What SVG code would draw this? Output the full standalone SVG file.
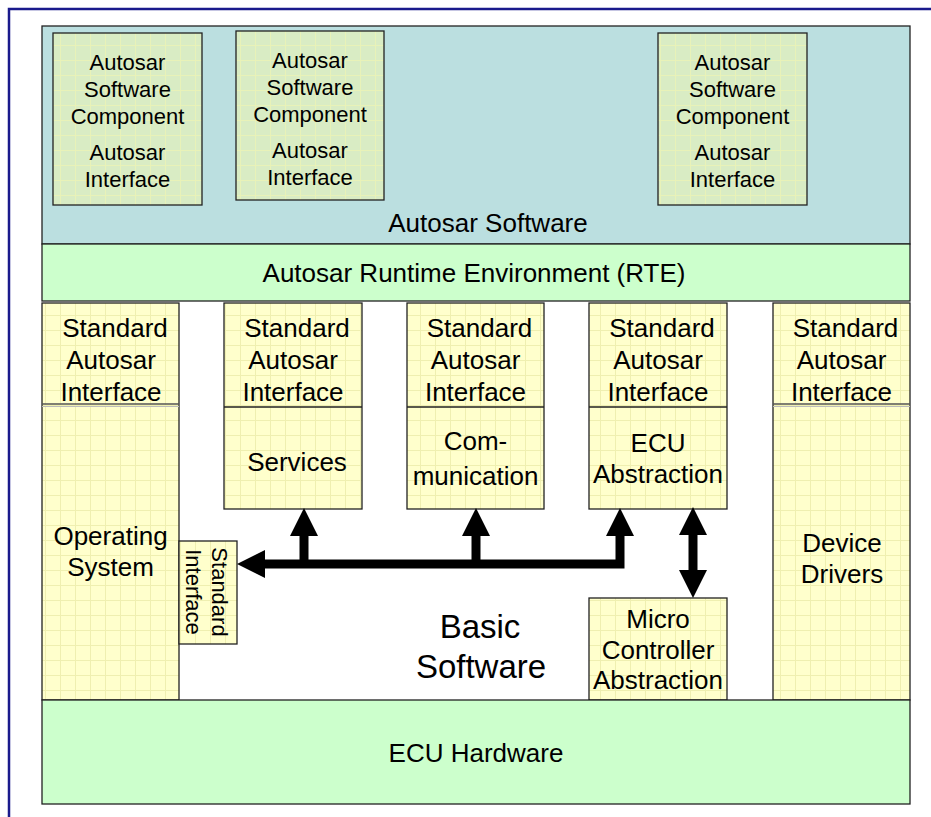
<svg xmlns="http://www.w3.org/2000/svg" width="931" height="817" viewBox="0 0 931 817">
<style>
text{font-family:"Liberation Sans",Arial,sans-serif;fill:#000;text-anchor:middle}
.t26{font-size:26px}
.t22{font-size:22px}
.box{stroke:#222;stroke-width:1.3}
.y{fill:url(#gridY)}
.g{fill:url(#gridG)}
.panel{stroke:#222;stroke-width:1.3}
.conn{fill:none;stroke:#000;stroke-width:9;stroke-linejoin:miter}
</style>
<defs>
<pattern id="gridY" patternUnits="userSpaceOnUse" width="15" height="15">
<rect width="15" height="15" fill="#ffffcc"/>
<path d="M0,0.5H15M0.5,0V15" stroke="#efefb0" stroke-width="1"/>
</pattern>
<pattern id="gridG" patternUnits="userSpaceOnUse" width="15" height="15">
<rect width="15" height="15" fill="#d9ecc4"/>
<path d="M0,0.5H15M0.5,0V15" stroke="#e8f2b8" stroke-width="1"/>
</pattern>
<marker id="ah" markerUnits="userSpaceOnUse" markerWidth="28" markerHeight="28" refX="0" refY="14" orient="auto-start-reverse" viewBox="0 0 28 28">
<path d="M0,0L28,14L0,28z" fill="#000"/>
</marker>
</defs>
<rect width="931" height="817" fill="#fff"/>
<path d="M9,817V9H931" fill="none" stroke="#1a1a8c" stroke-width="2.5"/>

<g id="autosar-software">
<rect class="panel" x="42" y="26" width="868" height="218" fill="#bbdfe0"/>
<text class="t26" x="488" y="232">Autosar Software</text>
</g>
<g id="swc1">
<rect class="box g" x="53" y="33" width="149" height="172"/>
<text class="t22" x="127.5" y="70">Autosar</text>
<text class="t22" x="127.5" y="97">Software</text>
<text class="t22" x="127.5" y="124">Component</text>
<text class="t22" x="127.5" y="160">Autosar</text>
<text class="t22" x="127.5" y="187">Interface</text>
</g>
<g id="swc2">
<rect class="box g" x="236" y="31" width="148" height="169"/>
<text class="t22" x="310" y="68">Autosar</text>
<text class="t22" x="310" y="95">Software</text>
<text class="t22" x="310" y="122">Component</text>
<text class="t22" x="310" y="158">Autosar</text>
<text class="t22" x="310" y="185">Interface</text>
</g>
<g id="swc3">
<rect class="box g" x="658" y="33" width="149" height="172"/>
<text class="t22" x="732.5" y="70">Autosar</text>
<text class="t22" x="732.5" y="97">Software</text>
<text class="t22" x="732.5" y="124">Component</text>
<text class="t22" x="732.5" y="160">Autosar</text>
<text class="t22" x="732.5" y="187">Interface</text>
</g>
<g id="rte">
<rect class="panel" x="42" y="244" width="868" height="57" fill="#ccffcc"/>
<text class="t26" x="474" y="282">Autosar Runtime Environment (RTE)</text>
</g>
<g id="basic-software">
<text x="480" y="638" style="font-size:33px">Basic</text>
<text x="481" y="678" style="font-size:33px">Software</text>
</g>
<g id="operating-system">
<rect class="box y" x="42" y="303" width="137" height="397"/>
<line x1="42" y1="404" x2="179" y2="404" stroke="#555" stroke-width="1.3"/>
<line x1="42" y1="406.5" x2="179" y2="406.5" stroke="#bbb" stroke-width="1"/>
<text class="t26" x="115" y="337">Standard</text>
<text class="t26" x="111" y="369">Autosar</text>
<text class="t26" x="111" y="401">Interface</text>
<text class="t26" x="110.5" y="545">Operating</text>
<text class="t26" x="110.5" y="576">System</text>
</g>
<g id="services">
<rect class="box y" x="224" y="303" width="138" height="206"/>
<line x1="224" y1="407" x2="362" y2="407" stroke="#222" stroke-width="1.3"/>
<text class="t26" x="297" y="337">Standard</text>
<text class="t26" x="293" y="369">Autosar</text>
<text class="t26" x="293" y="401">Interface</text>
<text class="t26" x="297" y="471">Services</text>
</g>
<g id="communication">
<rect class="box y" x="407" y="303" width="137" height="206"/>
<line x1="407" y1="407" x2="544" y2="407" stroke="#222" stroke-width="1.3"/>
<text class="t26" x="479.5" y="337">Standard</text>
<text class="t26" x="475.5" y="369">Autosar</text>
<text class="t26" x="475.5" y="401">Interface</text>
<text class="t26" x="475.5" y="450">Com-</text>
<text class="t26" x="475.5" y="485">munication</text>
</g>
<g id="ecu-abstraction">
<rect class="box y" x="589" y="303" width="138" height="206"/>
<line x1="589" y1="407" x2="727" y2="407" stroke="#222" stroke-width="1.3"/>
<text class="t26" x="662" y="337">Standard</text>
<text class="t26" x="658" y="369">Autosar</text>
<text class="t26" x="658" y="401">Interface</text>
<text class="t26" x="658" y="452">ECU</text>
<text class="t26" x="658" y="483">Abstraction</text>
</g>
<g id="device-drivers">
<rect class="box y" x="773" y="303" width="137" height="397"/>
<line x1="773" y1="404" x2="910" y2="404" stroke="#555" stroke-width="1.3"/>
<line x1="773" y1="406.5" x2="910" y2="406.5" stroke="#bbb" stroke-width="1"/>
<text class="t26" x="845.5" y="337">Standard</text>
<text class="t26" x="841.5" y="369">Autosar</text>
<text class="t26" x="841.5" y="401">Interface</text>
<text class="t26" x="842" y="552">Device</text>
<text class="t26" x="842" y="583">Drivers</text>
</g>
<g id="micro-controller-abstraction">
<rect class="box y" x="589" y="598" width="138" height="102"/>
<text class="t26" x="658" y="628">Micro</text>
<text class="t26" x="658" y="659">Controller</text>
<text class="t26" x="658" y="689">Abstraction</text>
</g>
<g id="standard-interface">
<rect class="box y" x="179" y="541" width="58" height="103"/>
<text class="t22" transform="translate(212,592) rotate(90)" x="0" y="0">Standard</text>
<text class="t22" transform="translate(186,592) rotate(90)" x="0" y="0">Interface</text>
</g>
<g id="ecu-hardware">
<rect class="panel" x="42" y="700" width="868" height="104" fill="#ccffcc"/>
<text class="t26" x="476" y="762">ECU Hardware</text>
</g>
<g id="connectors">
<path class="conn" d="M620,536V564H265" marker-start="url(#ah)" marker-end="url(#ah)"/>
<path class="conn" d="M304,564V536" marker-end="url(#ah)"/>
<path class="conn" d="M476,564V536" marker-end="url(#ah)"/>
<path class="conn" d="M693,535V570" marker-start="url(#ah)" marker-end="url(#ah)"/>
</g>
</svg>
